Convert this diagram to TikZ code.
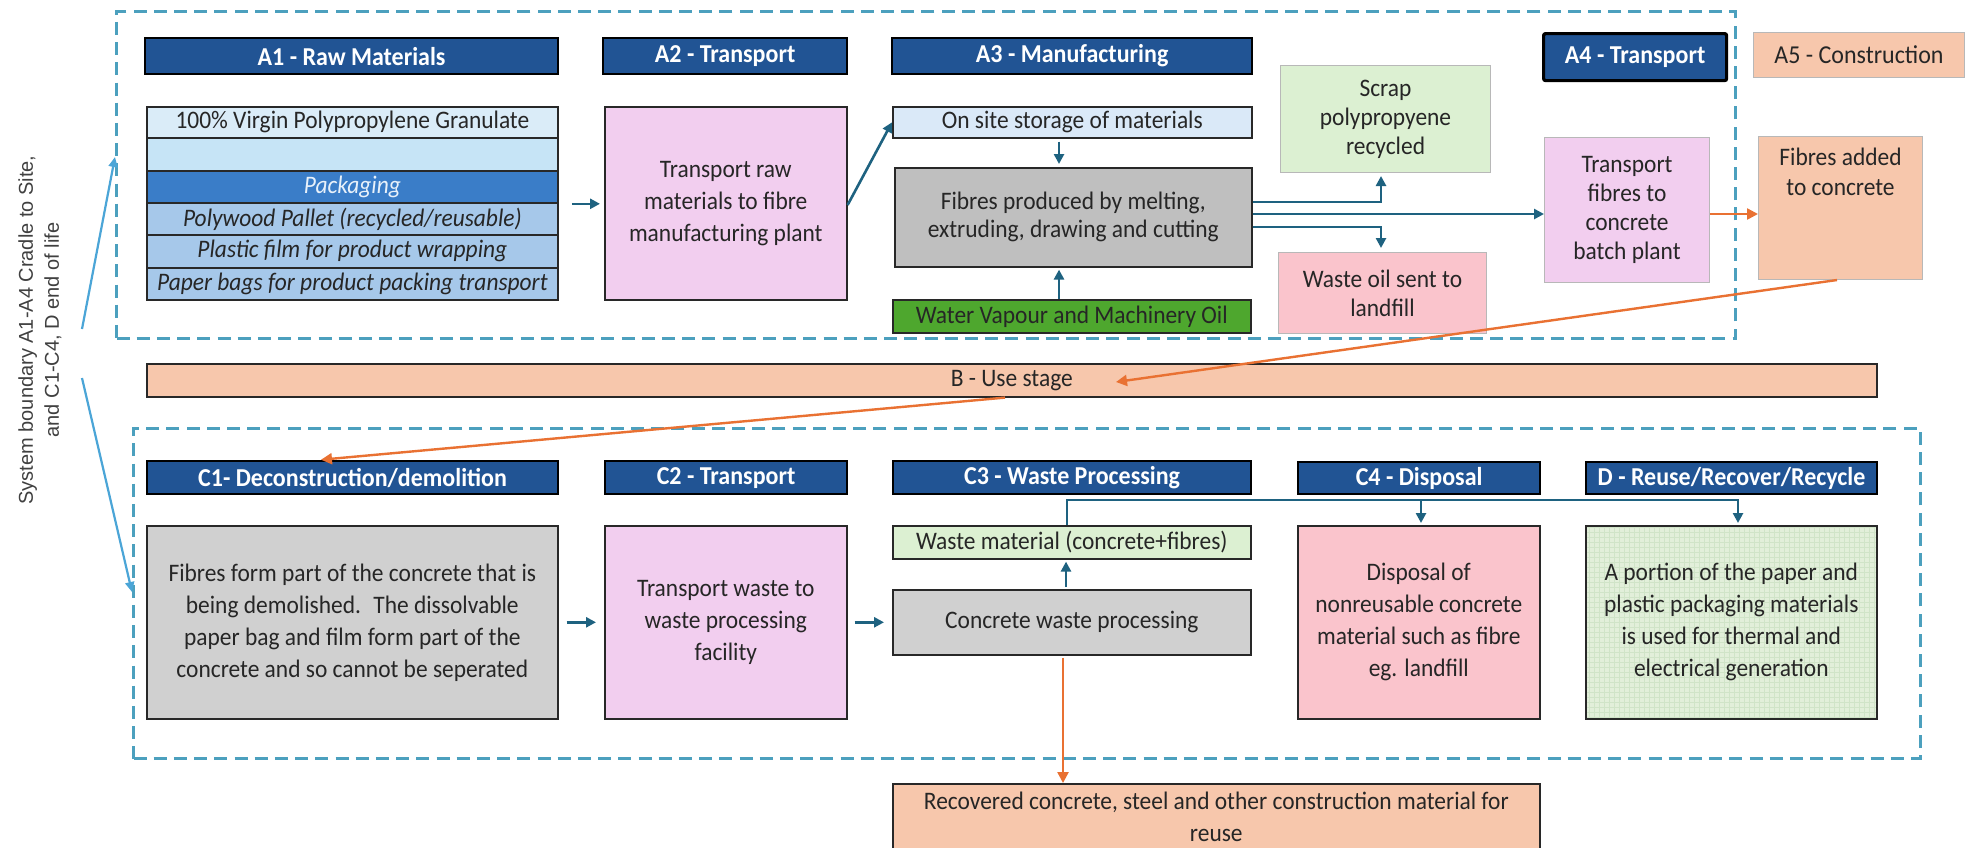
\documentclass[tikz,border=0pt]{standalone}
\usepackage{fontspec}
\setmainfont{Carlito}[FakeStretch=0.93]
\newfontfamily\arialf{Liberation Sans}
\usetikzlibrary{arrows.meta,calc}
\definecolor{hdrc}{RGB}{33,84,148}
\definecolor{txtc}{RGB}{38,38,38}
\definecolor{bordc}{RGB}{40,40,40}
\definecolor{tblA}{RGB}{218,236,248}
\definecolor{tblB}{RGB}{198,228,246}
\definecolor{tblC}{RGB}{58,125,200}
\definecolor{tblD}{RGB}{166,200,234}
\definecolor{pkgtxt}{RGB}{232,241,250}
\definecolor{pinkc}{RGB}{242,206,239}
\definecolor{storc}{RGB}{218,233,248}
\definecolor{grayD}{RGB}{191,191,191}
\definecolor{grayL}{RGB}{208,208,208}
\definecolor{greenW}{RGB}{78,167,46}
\definecolor{greenL}{RGB}{220,240,210}
\definecolor{greenD}{RGB}{226,239,218}
\definecolor{gridc}{RGB}{208,228,200}
\definecolor{redL}{RGB}{250,196,204}
\definecolor{peachc}{RGB}{247,199,172}
\definecolor{tealc}{RGB}{30,98,128}
\definecolor{orangec}{RGB}{233,113,50}
\definecolor{dashc}{RGB}{76,160,190}
\definecolor{skyc}{RGB}{75,165,215}
\definecolor{sidec}{RGB}{64,64,64}
\newcommand{\mybx}[7]{\node[#2, anchor=north west, minimum width={(#5-#3)*0.5pt}, minimum height={(#6-#4)*0.5pt}] (#1) at (#3,#4) {#7};}
\begin{document}
\begin{tikzpicture}[x=0.5pt,y=-0.5pt,
  base/.style={inner sep=2pt, align=center, text=txtc, font=\fontsize{12.6}{15}\selectfont},
  box/.style={base, draw=bordc, line width=0.8pt},
  sbox/.style={base, draw=black!28, line width=0.5pt},
  hdr/.style={base, draw=black, line width=1.1pt, fill=hdrc, text=white, font=\fontsize{12.9}{14}\selectfont\bfseries},
  bnd/.style={draw=dashc, line width=1.5pt, dash pattern=on 6.5pt off 3.6pt, inner sep=0pt},
  tarr/.style={draw=tealc, line width=1.3pt, -{Triangle[length=5pt,width=5pt]}},
  oarr/.style={draw=orangec, line width=1.2pt, -{Triangle[length=5.5pt,width=5.5pt]}},
  sarr/.style={draw=skyc, line width=1.1pt, -{Triangle[length=5pt,width=4.5pt]}},
  trow/.style={box, line width=0.9pt, font=\fontsize{12.6}{15}\selectfont\itshape},
  dgrid/.style={path picture={\draw[gridc, line width=0.25pt, step=2.5pt] (path picture bounding box.south west) grid (path picture bounding box.north east);}}
]
\useasboundingbox[fill=white] (0,0) rectangle (1968,847);

% system boundaries
\mybx{topb}{bnd}{115}{10}{1734}{337}{}
\mybx{botb}{bnd}{132}{427}{1919}{757}{}

% side label
\node[rotate=90, align=center, text=sidec, font=\arialf\fontsize{10}{13}\selectfont] (side) at (40,330) {System boundary A1-A4 Cradle to Site,\\and C1-C4, D end of life};
\coordinate (sa) at (82,329);
\coordinate (sb) at (82,378);
\draw[sarr] (sa) -- (topb.west |- 0,157);
\draw[sarr] (sb) -- (botb.west |- 0,592);

% headers
\mybx{hA1}{hdr}{144}{37}{557}{73}{A1 - Raw Materials}
\mybx{hA2}{hdr}{602}{37}{846}{73}{A2 - Transport}
\mybx{hA3}{hdr}{891}{37}{1251}{73}{A3 - Manufacturing}
\mybx{hA4}{hdr, line width=1.6pt, rounded corners=1pt}{1542}{32}{1725}{79}{A4 - Transport}
\mybx{hA5}{sbox, fill=peachc, font=\fontsize{12.9}{14}\selectfont}{1753}{32}{1964}{77}{A5 - Construction}
\mybx{hC1}{hdr}{146}{460}{557}{493}{C1- Deconstruction/demolition}
\mybx{hC2}{hdr}{604}{460}{846}{493}{C2 - Transport}
\mybx{hC3}{hdr}{892}{460}{1250}{493}{C3 - Waste Processing}
\mybx{hC4}{hdr}{1297}{461}{1539}{493}{C4 - Disposal}
\mybx{hD}{hdr}{1585}{461}{1876}{493}{D - Reuse/Recover/Recycle}

% A1 table
\mybx{t1}{box, line width=0.9pt, fill=tblA}{146}{106}{557}{137}{100\% Virgin Polypropylene Granulate}
\mybx{t2}{box, line width=0.9pt, fill=tblB}{146}{137}{557}{170}{}
\mybx{t3}{trow, fill=tblC, text=pkgtxt}{146}{170}{557}{202}{Packaging}
\mybx{t4}{trow, fill=tblD}{146}{202}{557}{234}{Polywood Pallet (recycled/reusable)}
\mybx{t5}{trow, fill=tblD}{146}{234}{557}{267}{Plastic film for product wrapping}
\mybx{t6}{trow, fill=tblD}{146}{267}{557}{299}{Paper bags for product packing transport}

% A2 / A3
\mybx{a2}{box, fill=pinkc, font=\fontsize{12.6}{16}\selectfont}{604}{106}{846}{299}{Transport raw\\materials to fibre\\manufacturing plant}
\mybx{stor}{box, fill=storc}{892}{106}{1251}{137}{On site storage of materials}
\mybx{fib}{box, fill=grayD, font=\fontsize{12.6}{14}\selectfont}{894}{167}{1251}{266}{Fibres produced by melting,\\extruding, drawing and cutting}
\mybx{wat}{box, fill=greenW}{892}{299}{1250}{332}{Water Vapour and Machinery Oil}
\mybx{scrap}{sbox, fill=greenL, font=\fontsize{12.6}{14.5}\selectfont}{1280}{65}{1490}{172}{Scrap\\polypropyene\\recycled}
\mybx{oil}{sbox, fill=redL, font=\fontsize{12.6}{14.5}\selectfont}{1278}{252}{1486}{333}{Waste oil sent to\\landfill}
\mybx{a4b}{sbox, fill=pinkc, font=\fontsize{12.6}{14.5}\selectfont}{1544}{137}{1709}{282}{Transport\\fibres to\\concrete\\batch plant}
\node[sbox, fill=peachc, anchor=north west, minimum width={(1922-1758)*0.5pt}, minimum height={(279-136)*0.5pt},
  label={[base, anchor=north, yshift=-4pt, font=\fontsize{12.6}{15}\selectfont]north:{Fibres added\\to concrete}}] (a5b) at (1758,136) {};

% B use stage
\mybx{bbar}{box, fill=peachc}{146}{363}{1876}{396}{B - Use stage}
\coordinate (bin) at (1116,382);

% C stage
\mybx{c1}{box, fill=grayL, font=\fontsize{12.6}{16}\selectfont}{146}{525}{557}{718}{Fibres form part of the concrete that is\\being demolished.~ The dissolvable\\paper bag and film form part of the\\concrete and so cannot be seperated}
\mybx{c2}{box, fill=pinkc, font=\fontsize{12.6}{16}\selectfont}{604}{525}{846}{718}{Transport waste to\\waste processing\\facility}
\mybx{wm}{box, fill=greenL}{892}{525}{1250}{558}{Waste material (concrete+fibres)}
\mybx{conc}{box, fill=grayL}{892}{589}{1250}{654}{Concrete waste processing}
\mybx{c4}{box, fill=redL, font=\fontsize{12.6}{16}\selectfont}{1297}{525}{1539}{718}{Disposal of\\nonreusable concrete\\material such as fibre\\eg. landfill}
\mybx{dbx}{box, fill=greenD, dgrid, font=\fontsize{12.6}{16}\selectfont}{1585}{525}{1876}{718}{A portion of the paper and\\plastic packaging materials\\is used for thermal and\\electrical generation}
\mybx{rec}{box, fill=peachc, font=\fontsize{12.6}{16}\selectfont}{892}{783}{1539}{850}{Recovered concrete, steel and other construction material for\\reuse}

% connectors top
\draw[tarr] ($(t3.south east)+(13,0)$) -- ($(a2.west |- t3.south)+(-4,0)$);
\draw[tarr] (a2.east |- 0,205) -- (stor.west);
\draw[tarr, shorten <=1.5pt, shorten >=1.5pt] (stor.south -| 1059,0) -- (fib.north -| 1059,0);
\draw[tarr, shorten >=1pt] (wat.north -| 1059,0) -- (fib.south -| 1059,0);
\draw[tarr, shorten >=1.5pt] (fib.east |- 0,202) -| (scrap.south -| 1381,0);
\draw[tarr] (fib.east |- 0,214) -- (a4b.west |- 0,214);
\draw[tarr, shorten >=2pt] (fib.east |- 0,227) -| (oil.north -| 1381,0);
\draw[oarr] (a4b.east |- 0,214) -- (a5b.west |- 0,214);
\draw[oarr] (a5b.south -| 1837,0) -- (bin);
\draw[oarr, shorten >=1.5pt] (bbar.south -| 1005,0) -- (hC1.north -| 318,0);

% connectors bottom
\draw[tarr] ($(c1.east)+(8,0)$) -- ($(c2.west)+(-8,0)$);
\draw[tarr] ($(c2.east)+(7,0)$) -- ($(conc.west)+(-8,0)$);
\draw[tarr, shorten <=1pt, shorten >=1pt] (conc.north -| 1066,0) -- (wm.south -| 1066,0);
\draw[tarr, shorten >=1pt] (wm.north -| 1067,0) |- (1738,500) -- (dbx.north -| 1738,0);
\draw[tarr, shorten >=1pt] (1421,500) -- (c4.north -| 1421,0);
\draw[oarr, shorten <=1pt] (conc.south -| 1063,0) -- (rec.north -| 1063,0);
\end{tikzpicture}
\end{document}
